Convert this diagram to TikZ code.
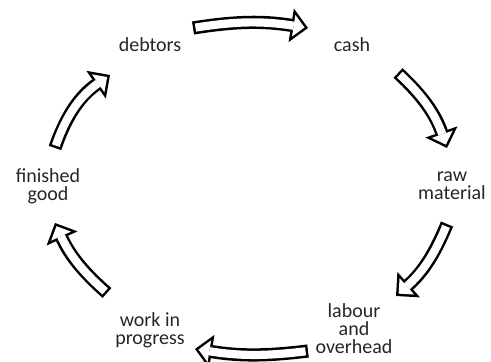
\documentclass[tikz,border=0pt]{standalone}
\usepackage{fontspec}
\setmainfont{Carlito}
\usetikzlibrary{arrows.meta}
\tikzset{
	stage/.style={
		inner sep=0pt,
		align=center,
		text=black!85,
		font=\fontsize{10}{9}\selectfont},
	flowout/.style={
		line width=6.6pt, draw=black,
		-{Triangle[length=8.5pt 0 0,width=17pt 0 0,line width=0pt 0 0]}},
	flowin/.style={
		line width=4.1pt, draw=white,
		shorten <=1.25pt, shorten >=1.77pt,
		-{Triangle[length=5.48pt 0 0,width=10.96pt 0 0,line width=0pt 0 0]}}
}
% hollow block arrow: black body, white inside
\newcommand{\flowarrow}[3]{
	\draw[flowout] #1 to[bend left=#3] #2;
	\draw[flowin] #1 to[bend left=#3] #2;
}

\begin{document}
\begin{tikzpicture}[x=0.5pt,y=0.5pt]
	\useasboundingbox (0,0) rectangle (491,362);

		\node (debtors) [stage] at (150,317) {debtors};
		\node (cash) [stage] at (352,317) {cash};
		\node (raw) [stage] at (452,176) {raw\\material};
		\node (labour) [stage] at (354,33) {labour\\and\\overhead};
		\node (wip) [stage] at (150,32) {work in\\progress};
		\node (finished) [stage] at (48,176) {finished\\good};

		\flowarrow{([shift={(43,17)}]debtors.center)}{([shift={(-44,17)}]cash.center)}{9}
		\flowarrow{([shift={(46,-28)}]cash.center)}{([shift={(-5,38)}]raw.center)}{14}
		\flowarrow{([shift={(-5,-38)}]raw.center)}{([shift={(42,33)}]labour.center)}{13}
		\flowarrow{([shift={(-46,-22)}]labour.center)}{([shift={(45,-19)}]wip.center)}{8}
		\flowarrow{([shift={(-43,37)}]wip.center)}{([shift={(7,-37)}]finished.center)}{12}
		\flowarrow{([shift={(7,38)}]finished.center)}{([shift={(-40,-30)}]debtors.center)}{18}

	\end{tikzpicture}
\end{document}
